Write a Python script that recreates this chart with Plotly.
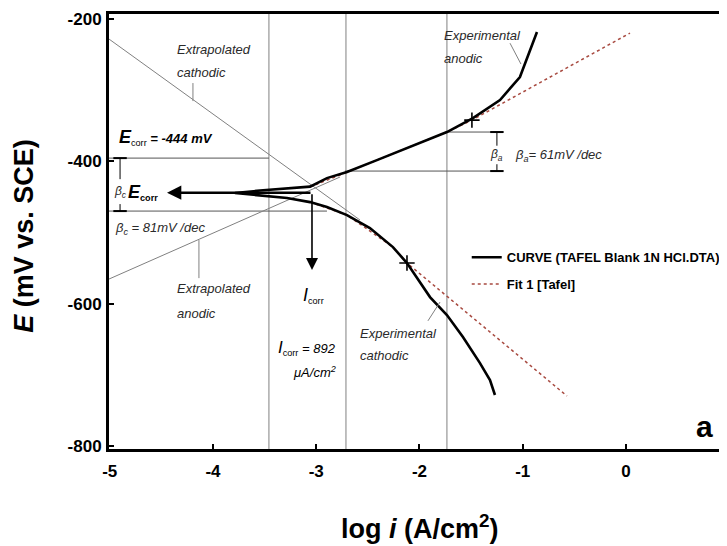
import plotly.graph_objects as go

# ---------------- data ----------------
# Experimental polarization curve (log i, E): cathodic end -> Ecorr -> anodic end
curve_log_i = [-1.269, -1.317, -1.414, -1.579, -1.734, -1.898, -2.121, -2.257, -2.480,
               -2.702, -2.896, -3.060, -3.283, -3.545, -3.787,
               -3.545, -3.283, -3.060, -2.896, -2.702, -2.412, -2.092, -1.734, -1.482,
               -1.220, -1.027, -0.930, -0.862]
curve_E = [-728.2, -707.2, -683.3, -646.8, -615.9, -590.6, -542.8, -520.4, -493.7,
           -475.4, -464.2, -457.2, -451.5, -448.0, -444.5,
           -441.0, -438.2, -435.5, -423.5, -415.0, -398.2, -379.9, -358.8, -339.2,
           -313.9, -281.6, -243.7, -218.4]

# Tafel fit (anodic branch, gap, cathodic branch)
fit_log_i = [-3.060, -2.702, -2.092, -1.734, -1.492, 0.039, None,
             -3.060, -2.702, -2.257, -2.121, -0.571]
fit_E = [-436.0, -415.0, -379.9, -358.8, -342.0, -219.8, None,
         -457.2, -475.4, -520.4, -542.8, -729.6]

# fit-range markers (+)
cross_log_i = [-1.492, -2.121]
cross_E = [-342.0, -542.8]

# hand-drawn extrapolated Tafel lines
extrap_cath_log_i = [-5.007, -2.576]
extrap_cath_E = [-228.2, -482.4]
extrap_anod_log_i = [-5.007, -2.770]
extrap_anod_E = [-565.3, -422.0]

ecorr = -444
log_icorr = -3.041
ecorr_arrow_tip = -4.445
icorr_arrow_tip = -552.7

v_lines = [-3.458, -2.712, -1.734]
# horizontal construction lines: (x0, x1, E)
h_lines = [(-5.007, -3.458, -395.4), (-5.007, -2.896, -469.8),
           (-1.734, -1.220, -358.8), (-2.722, -1.220, -413.6)]

x_ticks = [-5, -4, -3, -2, -1, 0, 1]
x_tick_text = ["-5", "-4", "-3", "-2", "-1", "0", "1"]
y_ticks = [-800, -600, -400, -200]
y_tick_text = ["-800", "-600", "-400", "-200"]

X_RANGE = [-5.007, 1.056]
Y_RANGE = [-804, -193]

SANS = "Liberation Sans, Arial, sans-serif"
GREY = "#808080"
TXT = "#2a2a2a"

fig = go.Figure()

# extrapolated lines
fig.add_trace(go.Scatter(x=extrap_cath_log_i, y=extrap_cath_E, mode="lines",
                         line=dict(color=GREY, width=1), showlegend=False, hoverinfo="skip"))
fig.add_trace(go.Scatter(x=extrap_anod_log_i, y=extrap_anod_E, mode="lines",
                         line=dict(color=GREY, width=1), showlegend=False, hoverinfo="skip"))

# Tafel fit
fig.add_trace(go.Scatter(x=fit_log_i, y=fit_E, mode="lines", name="Fit 1 [Tafel]",
                         legendgroup="fit", legendrank=2,
                         line=dict(color="#a84a40", width=1.5, dash="dot")))
# experimental curve
fig.add_trace(go.Scatter(x=curve_log_i, y=curve_E, mode="lines",
                         name="CURVE (TAFEL Blank 1N HCl.DTA)", legendgroup="curve",
                         legendrank=1, line=dict(color="black", width=2.6)))
# cross markers
fig.add_trace(go.Scatter(x=cross_log_i, y=cross_E, mode="markers",
                         marker=dict(symbol="cross-thin", size=11,
                                     line=dict(color="black", width=1.6)),
                         showlegend=False, hoverinfo="skip"))

shapes = []
for xv in v_lines:
    shapes.append(dict(type="line", xref="x", yref="paper", x0=xv, x1=xv, y0=0, y1=1,
                       line=dict(color=GREY, width=1), layer="below"))
for x0, x1, yv in h_lines:
    shapes.append(dict(type="line", xref="x", yref="y", x0=x0, x1=x1, y0=yv, y1=yv,
                       line=dict(color="#555555", width=1), layer="below"))

# bracket for beta_c (left) and beta_a (right)
def bracket(xc, y_top, y_bot, gap_top, gap_bot, half=0.065):
    out = []
    for yv in (y_top, y_bot):
        out.append(dict(type="line", xref="x", yref="y", x0=xc - half, x1=xc + half,
                        y0=yv, y1=yv, line=dict(color="black", width=2)))
    out.append(dict(type="line", xref="x", yref="y", x0=xc, x1=xc, y0=y_top, y1=gap_top,
                    line=dict(color="black", width=1)))
    out.append(dict(type="line", xref="x", yref="y", x0=xc, x1=xc, y0=gap_bot, y1=y_bot,
                    line=dict(color="black", width=1)))
    return out

shapes += bracket(-4.900, -395.4, -469.8, -425.0, -460.0)
shapes += bracket(-1.250, -358.8, -413.6, -378.0, -404.0)

# pointer lines for labels
pointers = [((-4.194, -290.0), (-4.194, -315.3)),
            ((-4.136, -510.5), (-4.136, -564.0)),
            ((-1.918, -624.0), (-1.801, -597.6)),
            ((-1.123, -234.0), (-1.017, -263.3))]
for (xa, ya), (xb, yb) in pointers:
    shapes.append(dict(type="line", xref="x", yref="y", x0=xa, y0=ya, x1=xb, y1=yb,
                       line=dict(color=GREY, width=1)))

ann = []
def label(x, y, text, size=13, xanchor="left", color=TXT, align="left"):
    ann.append(dict(x=x, y=y, xref="x", yref="y", text=text, showarrow=False,
                    xanchor=xanchor, yanchor="middle", align=align,
                    font=dict(family=SANS, size=size, color=color)))

label(-4.368, -242.3, "<i>Extrapolated</i>")
label(-4.368, -274.6, "<i>cathodic</i>")
label(-4.368, -577.9, "<i>Extrapolated</i>")
label(-4.368, -613.1, "<i>anodic</i>")
label(-4.925, -366.0, "<b><i><span style='font-size:18px'>E</span></i></b><sub>corr</sub> <b><i>= -444 mV</i></b>",
      color="black")
label(-4.900, -443.1, "<i>β<sub>c</sub></i>", size=12, xanchor="center")
label(-4.845, -444.0, "<b><i><span style='font-size:18px'>E</span></i></b><b><sub>corr</sub></b>", color="black")
label(-4.969, -493.7, "<i>β<sub>c</sub> = 81mV /dec</i>", size=13)
label(-1.250, -391.1, "<i>β<sub>a</sub></i>", size=12, xanchor="center")
label(-1.094, -391.1, "<i>β<sub>a</sub>= 61mV /dec</i>", size=13)
label(-3.031, -587.8, "<i><span style='font-size:18px'>I</span></i><sub>corr</sub>", xanchor="center", color="black")
label(-2.790, -662.2, "<i><span style='font-size:17px'>I</span></i><sub>corr</sub> <i>= 892</i>",
      xanchor="right", color="black")
label(-2.790, -695.9, "<i>μA/cm<sup>2</sup></i>", xanchor="right", color="black")
label(-2.596, -641.2, "<i>Experimental</i>")
label(-2.596, -672.1, "<i>cathodic</i>")
label(-1.782, -222.6, "<i>Experimental</i>")
label(-1.782, -254.9, "<i>anodic</i>")
ann.append(dict(x=0.765, y=-773.0, xref="x", yref="y", text="<b>a</b>", showarrow=False,
                xanchor="center", yanchor="middle",
                font=dict(family=SANS, size=30, color="black")))

# arrows
ann.append(dict(x=ecorr_arrow_tip, y=ecorr, ax=log_icorr, ay=ecorr, xref="x", yref="y",
                axref="x", ayref="y", text="", showarrow=True, arrowhead=2, arrowsize=1.1,
                arrowwidth=2.6, arrowcolor="black"))
ann.append(dict(x=log_icorr, y=icorr_arrow_tip, ax=log_icorr, ay=ecorr, xref="x", yref="y",
                axref="x", ayref="y", text="", showarrow=True, arrowhead=2, arrowsize=1.5,
                arrowwidth=1.6, arrowcolor="black"))

# axis titles
ann.append(dict(x=-0.136, y=0.49, xref="paper", yref="paper", textangle=-90,
                xanchor="center", yanchor="middle",
                text="<b><i>E</i> (mV vs. SCE)</b>", showarrow=False,
                font=dict(family=SANS, size=27, color="black")))
ann.append(dict(x=0.497, y=-0.179, xref="paper", yref="paper",
                xanchor="center", yanchor="middle",
                text="<b>log <i>i</i> (A/cm<sup>2</sup>)</b>", showarrow=False,
                font=dict(family=SANS, size=27, color="black")))

fig.update_layout(
    width=727, height=546,
    margin=dict(l=101, r=0, t=6, b=105, autoexpand=False),
    paper_bgcolor="white", plot_bgcolor="white",
    shapes=shapes, annotations=ann,
    showlegend=True,
    legend=dict(x=0.631, y=0.571, xref="container", yref="container",
                xanchor="left", yanchor="top", traceorder="grouped",
                bgcolor="rgba(0,0,0,0)", tracegroupgap=7, itemwidth=30,
                font=dict(family=SANS, size=13, color="black", weight="bold")),
    xaxis=dict(range=X_RANGE, tickvals=x_ticks, ticktext=x_tick_text,
               showgrid=False, zeroline=False, showline=True, linecolor="black",
               linewidth=3, mirror=True, ticks="inside", ticklen=5, tickwidth=2,
               tickcolor="black", ticklabelstandoff=5,
               tickfont=dict(family=SANS, size=17, color="black", weight="bold")),
    yaxis=dict(range=Y_RANGE, tickvals=y_ticks, ticktext=y_tick_text,
               showgrid=False, zeroline=False, showline=True, linecolor="black",
               linewidth=3, mirror=False, ticks="inside", ticklen=5, tickwidth=2,
               tickcolor="black", ticklabelstandoff=1,
               tickfont=dict(family=SANS, size=17, color="black", weight="bold")),
)

fig.write_html("out.html")
